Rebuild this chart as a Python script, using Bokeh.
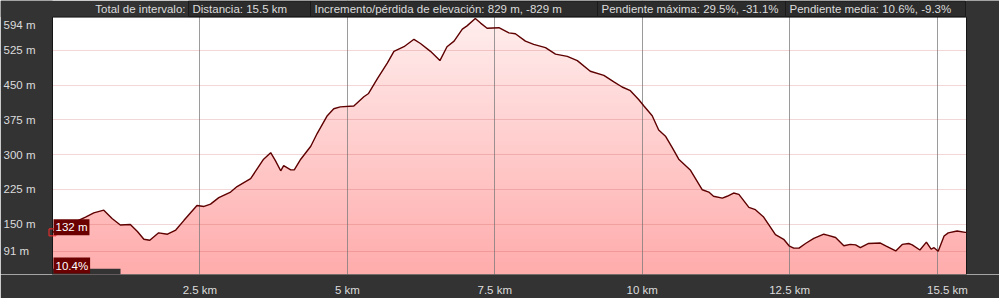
import numpy as np
from bokeh.plotting import figure
from bokeh.models import Range1d, FixedTicker, Label, BoxAnnotation, Grid
from bokeh.core.properties import value
from bokeh.embed import file_html
from bokeh.resources import INLINE

# ---------------- data ----------------
dist_km = [0.00, 0.56, 0.70, 0.87, 1.01, 1.15, 1.32, 1.44, 1.55, 1.65, 1.80, 1.95, 2.09, 2.23,
           2.45, 2.57, 2.68, 2.82, 3.02, 3.13, 3.36, 3.47, 3.58, 3.70, 3.78, 3.87, 3.92, 4.04,
           4.10, 4.21, 4.38, 4.49, 4.66, 4.77, 4.88, 5.11, 5.28, 5.36, 5.51, 5.68, 5.79, 5.96,
           6.13, 6.24, 6.41, 6.57, 6.69, 6.81, 6.95, 7.03, 7.17, 7.26, 7.37, 7.57, 7.74, 7.85,
           8.02, 8.16, 8.36, 8.53, 8.73, 8.90, 9.12, 9.35, 9.52, 9.66, 9.80, 9.94, 10.03, 10.17,
           10.28, 10.40, 10.51, 10.62, 10.82, 11.02, 11.13, 11.21, 11.36, 11.44, 11.55, 11.64,
           11.81, 11.92, 12.06, 12.26, 12.40, 12.49, 12.57, 12.66, 12.77, 12.91, 13.08, 13.14,
           13.28, 13.42, 13.53, 13.62, 13.70, 13.84, 14.04, 14.13, 14.30, 14.41, 14.52, 14.58,
           14.71, 14.82, 14.90, 14.95, 15.02, 15.12, 15.19, 15.34, 15.48, 15.50]
elev_m = [132, 165, 174, 180, 162, 148, 149, 134, 117, 115, 131, 128, 137, 158,
          190, 188, 193, 207, 219, 231, 248, 269, 290, 304, 287, 265, 276, 267,
          267, 290, 318, 346, 384, 399, 403, 405, 425, 432, 464, 498, 523, 533,
          549, 540, 523, 503, 533, 545, 571, 578, 594, 584, 573, 574, 563, 561,
          545, 538, 531, 517, 512, 503, 480, 471, 457, 446, 438, 419, 405, 384,
          353, 339, 315, 290, 266, 224, 219, 210, 206, 210, 217, 214,
          186, 181, 165, 127, 117, 103, 98, 98, 108, 119, 128, 126,
          121, 103, 106, 105, 99, 108, 109, 103, 92, 106, 108, 105,
          94, 111, 96, 99, 91, 124, 131, 135, 132, 132]

y_tick_values = [594, 525, 450, 375, 300, 225, 150, 91]
y_tick_labels = ["594 m", "525 m", "450 m", "375 m", "300 m", "225 m", "150 m", "91 m"]
y_grid_values = [91, 150, 225, 300, 375, 450, 525]
x_tick_values = [2.5, 5, 7.5, 10, 12.5]
x_tick_labels = ["2.5 km", "5 km", "7.5 km", "10 km", "12.5 km"]
x_end_label = "15.5 km"
x_grid_values = [2.5, 5, 7.5, 10, 12.5, 15]

header_title = "Total de intervalo:"
header_items = ["Distancia: 15.5 km",
                "Incremento/pérdida de elevación: 829 m, -829 m",
                "Pendiente máxima: 29.5%, -31.1%",
                "Pendiente media: 10.6%, -9.3%"]
marker_elev_text = "132 m"
marker_slope_text = "10.4%"

# ---------------- geometry / style ----------------
W, H = 999, 298
LEFT, RIGHT, TOP, BOTTOM = 52, 33, 17, 17          # margins around plot area (px)
X0, X1 = 0.0, 15.5
Y0, Y1 = 41.0, 597.0
ppk = (W - LEFT - RIGHT) / (X1 - X0)                # px per km
ppm = (H - TOP - BOTTOM) / (Y1 - Y0)                # px per m
XS, XE = X0 - LEFT / ppk, X1 + RIGHT / ppk
YS, YE = Y0, Y1 + TOP / ppm

FONT = "Liberation Sans"
TXT = "#dcdcdc"
BG = "#333333"

p = figure(width=W, height=H, x_range=Range1d(XS, XE), y_range=Range1d(YS, YE),
           y_axis_location=None, toolbar_location=None, output_backend="svg",
           min_border_left=0, min_border_right=0, min_border_top=0, min_border_bottom=BOTTOM)
# pixel coordinates (from the top-left of the canvas) for the header strip and margin texts
p.extra_x_ranges = {"px": Range1d(0, W)}
p.extra_y_ranges = {"px": Range1d(H - BOTTOM, 0)}
p.background_fill_color = "white"
p.border_fill_color = BG
p.outline_line_color = None
p.grid.visible = False

# gradient fill under the profile: gradient image, then white above the curve
n = 256
t = np.linspace(0, 1, n)  # 0 bottom -> 1 top
img = np.zeros((n, 1), dtype=np.uint32)
view = img.view(dtype=np.uint8).reshape((n, 1, 4))
view[:, 0, 0] = 255
view[:, 0, 1] = (172 + (238 - 172) * t).astype(np.uint8)
view[:, 0, 2] = (172 + (238 - 172) * t).astype(np.uint8)
view[:, 0, 3] = 255
r_img = p.image_rgba(image=[img], x=X0, y=Y0, dw=X1 - X0, dh=Y1 - Y0)
r_img.level = "image"
r_white = p.varea(x=dist_km, y1=elev_m, y2=[Y1] * len(elev_m), fill_color="white")
r_white.level = "image"

p.add_layout(Grid(dimension=0, ticker=FixedTicker(ticks=x_grid_values),
                  grid_line_color="#7a7a7a", grid_line_alpha=0.75, grid_line_width=1), "center")
p.add_layout(Grid(dimension=1, ticker=FixedTicker(ticks=y_grid_values),
                  grid_line_color="#c04848", grid_line_alpha=0.22, grid_line_width=1), "center")

# dark margins around the plot area (cover the grid outside it)
p.quad(left=[XS, X1, XS], right=[X0, XE, XE], bottom=[YS, YS, Y1], top=[YE, YE, YE],
       fill_color=BG, line_color=None)
# plot area border
p.quad(left=[X0], right=[X1], bottom=[Y0], top=[Y1], fill_color=None,
       line_color="#151515", line_width=1)

p.line(dist_km, elev_m, line_color="#5e0000", line_width=1.4)

# x axis
ax = p.xaxis[0]
x_end_tick = X1 - 19 / ppk
ax.ticker = FixedTicker(ticks=x_tick_values + [x_end_tick])
overrides = {v: s for v, s in zip(x_tick_values, x_tick_labels)}
overrides[x_end_tick] = x_end_label
ax.major_label_overrides = overrides
ax.axis_line_color = None
ax.major_tick_line_color = None
ax.minor_tick_line_color = None
ax.major_label_standoff = 3
ax.major_label_text_font = FONT
ax.major_label_text_font_size = "11.5px"
ax.major_label_text_color = TXT

# y labels, left aligned in the left margin
y_off = [7 if v == max(y_tick_values) else 0 for v in y_tick_values]
p.text(x=[3] * len(y_tick_values), y=y_tick_values, text=y_tick_labels, x_range_name="px",
       y_offset=y_off, text_align="left", text_baseline="middle", text_font=value(FONT),
       text_font_size="11.5px", text_color=TXT)

# header strip
box_left = [188, 310, 597, 785]
box_right = [310, 597, 785, 965]
p.quad(left=box_left, right=box_right, top=[0.5] * 4, bottom=[16.5] * 4,
       x_range_name="px", y_range_name="px",
       fill_color="#2c2c2c", line_color="#1a1a1a", line_width=1)
p.text(x=[185], y=[9], text=[header_title], x_range_name="px", y_range_name="px",
       text_align="right", text_baseline="middle", text_font=value(FONT),
       text_font_size="11.5px", text_color=TXT)
p.text(x=[l + 4 for l in box_left], y=[9] * 4, text=header_items,
       x_range_name="px", y_range_name="px", text_align="left", text_baseline="middle",
       text_font=value(FONT), text_font_size="11.5px", text_color=TXT)

# cursor readouts
p.scatter([dist_km[0]], [elev_m[0]], marker="square", size=7, fill_color=None,
          line_color="#ff2a2a", line_width=1)
p.add_layout(Label(x=X0, y=elev_m[0], text=marker_elev_text, text_align="left",
                   text_baseline="bottom", x_offset=1, y_offset=-3, text_font=FONT,
                   text_font_size="11.5px", text_color="white",
                   background_fill_color="#6a0000", padding=2))
p.add_layout(BoxAnnotation(left=X0, right=X0 + 68 / ppk, bottom=Y0, top=Y0 + 6 / ppm,
                           fill_color="#333333", fill_alpha=1, line_color=None))
p.add_layout(Label(x=X0, y=Y0, text=marker_slope_text, text_align="left", text_baseline="bottom",
                   x_offset=1, y_offset=1, text_font=FONT, text_font_size="11.5px",
                   text_color="white", background_fill_color="#6a0000", padding=2))

open("out.html", "w").write(file_html(p, INLINE))
